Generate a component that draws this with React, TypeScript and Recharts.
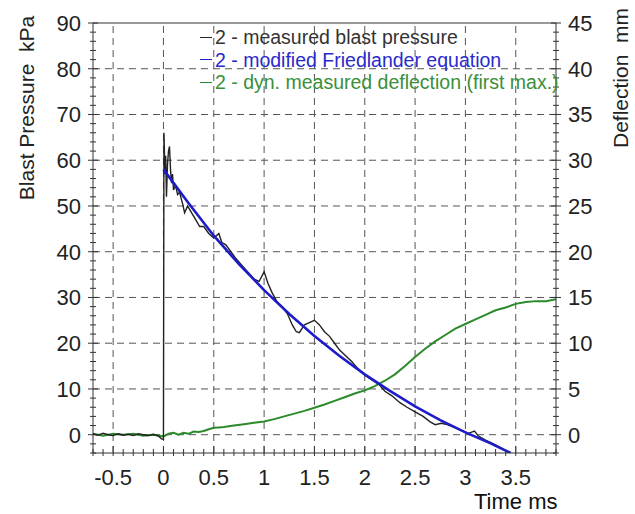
import { LineChart, Line, XAxis, YAxis, ReferenceLine } from 'recharts'

// time (ms) / measured blast pressure (kPa)
const pressure = [
  { t: -0.7, p: 0.2 }, { t: -0.65, p: -0.1 }, { t: -0.6, p: 0.3 }, { t: -0.55, p: 0 },
  { t: -0.5, p: -0.2 }, { t: -0.45, p: 0.2 }, { t: -0.4, p: -0.1 }, { t: -0.35, p: 0.1 },
  { t: -0.3, p: -0.2 }, { t: -0.25, p: 0.2 }, { t: -0.2, p: 0 }, { t: -0.15, p: -0.2 },
  { t: -0.1, p: 0.1 }, { t: -0.05, p: -0.3 }, { t: -0.02, p: -0.9 }, { t: 0, p: -1 },
  { t: 0.005, p: 66 }, { t: 0.015, p: 57 }, { t: 0.022, p: 61 }, { t: 0.03, p: 52 },
  { t: 0.04, p: 59 }, { t: 0.05, p: 62 }, { t: 0.06, p: 63 }, { t: 0.07, p: 58 },
  { t: 0.08, p: 55 }, { t: 0.09, p: 57 }, { t: 0.1, p: 53.5 }, { t: 0.12, p: 54.5 },
  { t: 0.14, p: 52.5 }, { t: 0.16, p: 53 }, { t: 0.19, p: 50.5 }, { t: 0.21, p: 48.5 },
  { t: 0.24, p: 50 }, { t: 0.28, p: 48.5 }, { t: 0.32, p: 47 }, { t: 0.36, p: 45.5 },
  { t: 0.4, p: 45.5 }, { t: 0.45, p: 44 }, { t: 0.5, p: 43 }, { t: 0.55, p: 44 },
  { t: 0.58, p: 42 }, { t: 0.62, p: 41.5 }, { t: 0.67, p: 40 }, { t: 0.72, p: 38.5 },
  { t: 0.78, p: 37 }, { t: 0.84, p: 35.5 }, { t: 0.9, p: 34 }, { t: 0.95, p: 33.5 },
  { t: 1.0, p: 35.6 }, { t: 1.04, p: 33 }, { t: 1.08, p: 31 }, { t: 1.13, p: 29 },
  { t: 1.18, p: 28 }, { t: 1.23, p: 26.5 }, { t: 1.28, p: 24 }, { t: 1.32, p: 22.5 },
  { t: 1.35, p: 22.3 }, { t: 1.4, p: 24 }, { t: 1.45, p: 24.5 }, { t: 1.5, p: 25 },
  { t: 1.55, p: 24 }, { t: 1.6, p: 22.5 }, { t: 1.65, p: 21.5 }, { t: 1.7, p: 20 },
  { t: 1.75, p: 18.5 }, { t: 1.8, p: 17.5 }, { t: 1.87, p: 16 }, { t: 1.93, p: 14.5 },
  { t: 2.0, p: 13 }, { t: 2.07, p: 12 }, { t: 2.14, p: 11 }, { t: 2.2, p: 9.5 },
  { t: 2.27, p: 8.5 }, { t: 2.35, p: 7 }, { t: 2.42, p: 6 }, { t: 2.5, p: 5 },
  { t: 2.58, p: 4 }, { t: 2.65, p: 2.8 }, { t: 2.7, p: 2.2 }, { t: 2.76, p: 2.5 },
  { t: 2.82, p: 2.2 }, { t: 2.9, p: 1.5 }, { t: 2.98, p: 0.8 }, { t: 3.03, p: 0.3 },
  { t: 3.09, p: 0.8 }, { t: 3.13, p: -0.3 }, { t: 3.2, p: -1.2 }, { t: 3.28, p: -2 },
  { t: 3.35, p: -2.8 }, { t: 3.42, p: -3.8 },
]

// modified Friedlander fit (kPa)
const friedlander = [
  { t: 0, p: 58 }, { t: 0.25, p: 50.6 }, { t: 0.5, p: 43.5 }, { t: 0.75, p: 37.3 },
  { t: 1.0, p: 31.6 }, { t: 1.25, p: 26.4 }, { t: 1.5, p: 21.6 }, { t: 1.75, p: 17.2 },
  { t: 2.0, p: 13.2 }, { t: 2.25, p: 9.6 }, { t: 2.5, p: 6.2 }, { t: 2.75, p: 3.2 },
  { t: 3.0, p: 0.5 }, { t: 3.25, p: -1.9 }, { t: 3.45, p: -4 },
]

// dynamic measured deflection (mm)
const deflection = [
  { t: -0.7, d: 0.1 }, { t: -0.6, d: -0.1 }, { t: -0.5, d: 0.1 }, { t: -0.4, d: 0 },
  { t: -0.3, d: 0.1 }, { t: -0.2, d: -0.1 }, { t: -0.1, d: 0 }, { t: 0, d: -0.2 },
  { t: 0.05, d: 0.1 }, { t: 0.1, d: 0.2 }, { t: 0.15, d: 0 }, { t: 0.2, d: 0.2 },
  { t: 0.25, d: 0.1 }, { t: 0.3, d: 0.35 }, { t: 0.35, d: 0.3 }, { t: 0.4, d: 0.4 },
  { t: 0.45, d: 0.6 }, { t: 0.5, d: 0.75 }, { t: 0.55, d: 0.8 }, { t: 0.6, d: 0.85 },
  { t: 0.7, d: 1 }, { t: 0.8, d: 1.15 }, { t: 0.9, d: 1.3 }, { t: 1.0, d: 1.45 },
  { t: 1.1, d: 1.7 }, { t: 1.2, d: 2 }, { t: 1.3, d: 2.3 }, { t: 1.4, d: 2.6 },
  { t: 1.5, d: 2.95 }, { t: 1.6, d: 3.3 }, { t: 1.7, d: 3.7 }, { t: 1.8, d: 4.1 },
  { t: 1.9, d: 4.5 }, { t: 2.0, d: 4.85 }, { t: 2.1, d: 5.3 }, { t: 2.2, d: 5.9 },
  { t: 2.3, d: 6.6 }, { t: 2.4, d: 7.5 }, { t: 2.5, d: 8.5 }, { t: 2.6, d: 9.4 },
  { t: 2.7, d: 10.2 }, { t: 2.8, d: 10.9 }, { t: 2.9, d: 11.6 }, { t: 3.0, d: 12.1 },
  { t: 3.1, d: 12.6 }, { t: 3.2, d: 13.1 }, { t: 3.3, d: 13.6 }, { t: 3.4, d: 13.9 },
  { t: 3.5, d: 14.3 }, { t: 3.6, d: 14.5 }, { t: 3.7, d: 14.6 }, { t: 3.8, d: 14.6 },
  { t: 3.9, d: 14.8 },
]

const xMajor = [-0.5, 0, 0.5, 1, 1.5, 2, 2.5, 3, 3.5]
const pMajor = [0, 10, 20, 30, 40, 50, 60, 70, 80, 90]
const dMajor = [0, 5, 10, 15, 20, 25, 30, 35, 40, 45]

const legendItems = [
  { label: '2 - measured blast pressure', color: '#222', text: '#333' },
  { label: '2 - modified Friedlander equation', color: '#1c1cc8', text: '#2a2acc' },
  { label: '2 - dyn. measured deflection (first max.)', color: '#2b8a2b', text: '#3a8f3a' },
]

const steps = (from: number, to: number, step: number) => {
  const out: number[] = []
  for (let v = from; v <= to + 1e-9; v += step) out.push(Math.round(v * 10) / 10)
  return out
}
const xTicks = steps(-0.7, 3.9, 0.1)
const pTicks = steps(-4, 90, 2)
const dTicks = steps(-2, 45, 1)

const FONT = '"Liberation Sans", Arial, sans-serif'
const AX = '#333'

const isIn = (v: number, list: number[]) => list.some(m => Math.abs(m - v) < 1e-6)

function XTick({ x, y, payload }: any) {
  const major = isIn(payload.value, xMajor)
  return (
    <g>
      <line x1={x} x2={x} y1={y - (major ? 7 : 4)} y2={y + 3} stroke={AX} />
      {major && (
        <text x={x} y={y + 32} textAnchor="middle" fontSize={22} fontFamily={FONT} fill="#222">
          {payload.value}
        </text>
      )}
    </g>
  )
}

function LeftTick({ x, y, payload }: any) {
  const major = isIn(payload.value, pMajor)
  const len = major ? 5 : 3
  return (
    <g>
      <line x1={x - len} x2={x + len} y1={y} y2={y} stroke={AX} />
      {major && (
        <text x={x - 12} y={y} dy="0.36em" textAnchor="end" fontSize={22} fontFamily={FONT} fill="#222">
          {payload.value}
        </text>
      )}
    </g>
  )
}

function RightTick({ x, y, payload }: any) {
  const major = isIn(payload.value, dMajor)
  const len = major ? 5 : 3
  return (
    <g>
      <line x1={x - len} x2={x + len} y1={y} y2={y} stroke={AX} />
      {major && (
        <text x={x + 12} y={y} dy="0.36em" textAnchor="start" fontSize={22} fontFamily={FONT} fill="#222">
          {payload.value}
        </text>
      )}
    </g>
  )
}

const grid = { stroke: '#555', strokeDasharray: '7 5', strokeWidth: 1 }

export default function App() {
  return (
    <div style={{ position: 'absolute', left: 0, top: 0, width: 635, height: 514, background: '#fff', fontFamily: FONT }}>
      <LineChart width={635} height={514} margin={{ top: 23, right: 0, left: 0, bottom: 0 }}>
        <XAxis type="number" dataKey="t" domain={[-0.7, 3.9]} ticks={xTicks} interval={0}
          tick={(p: any) => <XTick {...p} />} tickLine={false} tickSize={0} tickMargin={0}
          axisLine={{ stroke: AX }} height={61} allowDataOverflow />
        <YAxis yAxisId="p" domain={[-4, 90]} ticks={pTicks} interval={0} width={93}
          tick={(p: any) => <LeftTick {...p} />} tickLine={false} tickSize={0} tickMargin={0}
          axisLine={{ stroke: AX }} allowDataOverflow />
        <YAxis yAxisId="d" orientation="right" domain={[-2, 45]} ticks={dTicks} interval={0} width={79}
          tick={(p: any) => <RightTick {...p} />} tickLine={false} tickSize={0} tickMargin={0}
          axisLine={{ stroke: AX }} allowDataOverflow />

        {pMajor.slice(0, -1).map(v => (
          <ReferenceLine key={'h' + v} yAxisId="p" y={v} {...grid} />
        ))}
        {xMajor.map(v => (
          <ReferenceLine key={'v' + v} yAxisId="p" x={v} {...grid} />
        ))}
        <ReferenceLine yAxisId="p" y={90} stroke={AX} />

        <Line data={deflection} yAxisId="d" dataKey="d" type="linear" stroke="#2b8a2b"
          strokeWidth={2} dot={false} isAnimationActive={false} />
        <Line data={pressure} yAxisId="p" dataKey="p" type="linear" stroke="#222"
          strokeWidth={1.4} dot={false} isAnimationActive={false} />
        <Line data={friedlander} yAxisId="p" dataKey="p" type="linear" stroke="#1c1cc8"
          strokeWidth={2.6} dot={false} isAnimationActive={false} />
      </LineChart>

      <div style={{ position: 'absolute', left: 200, top: 26, fontSize: 19.5, lineHeight: '22.5px', whiteSpace: 'nowrap' }}>
        {legendItems.map(it => (
          <div key={it.label} style={{ display: 'flex', alignItems: 'center', color: it.text }}>
            <span style={{ display: 'inline-block', width: 12, height: 0, borderTop: `1.5px solid ${it.color}`, marginRight: 3 }} />
            {it.label}
          </div>
        ))}
      </div>

      <div style={{ position: 'absolute', left: 27, top: 108, transform: 'translate(-50%, -50%) rotate(-90deg)', fontSize: 21, color: '#222', whiteSpace: 'nowrap' }}>
        Blast Pressure&nbsp;&nbsp;kPa
      </div>
      <div style={{ position: 'absolute', left: 621, top: 78, transform: 'translate(-50%, -50%) rotate(-90deg)', fontSize: 21, color: '#222', whiteSpace: 'nowrap' }}>
        Deflection&nbsp;&nbsp;mm
      </div>
      <div style={{ position: 'absolute', left: 474, top: 489, fontSize: 22, color: '#111', whiteSpace: 'nowrap' }}>
        Time ms
      </div>
    </div>
  )
}
